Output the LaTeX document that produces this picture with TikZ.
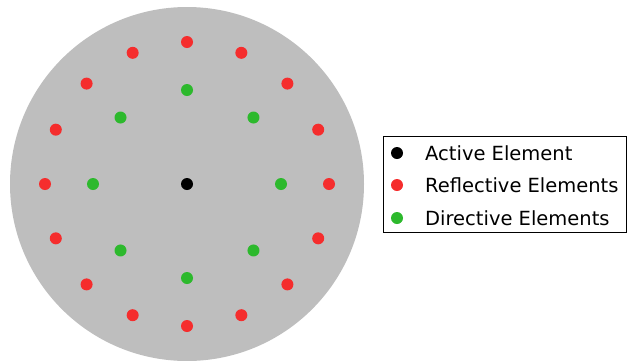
\documentclass[tikz,border=0pt]{standalone}
\usepackage{fontspec}
\setmainfont{DejaVu Sans}
\definecolor{disc}{RGB}{190,190,190}
\definecolor{redel}{RGB}{245,45,45}
\definecolor{greenel}{RGB}{45,185,45}
\begin{document}
\begin{tikzpicture}[x=1pt,y=-1pt,
  elem/.style={circle,inner sep=0pt,minimum size=12pt},
  legtext/.style={anchor=west,inner sep=0pt,font=\fontsize{19.5}{22}\selectfont}]
\useasboundingbox (0,0) rectangle (627,360);
\fill[disc] (187,184) circle (177);
\node[elem,fill=black] (active) at (187,184) {};
\foreach \i in {0,...,15}{
  \node[elem,fill=redel] (r\i) at ({187+142*cos(22.5*\i)},{184-142*sin(22.5*\i)}) {};
}
\foreach \i in {0,...,7}{
  \node[elem,fill=greenel] (g\i) at ({187+94*cos(45*\i)},{184-94*sin(45*\i)}) {};
}
\draw[line width=1pt] (383,136) rectangle (626,232);
\node[elem,fill=black] (la) at (397,153) {};
\node[elem,fill=redel] (lr) at (397,185) {};
\node[elem,fill=greenel] (lg) at (397,218) {};
\node[legtext] (ta) at (425,153) {Active Element};
\node[legtext] (tr) at (425,185) {Reflective Elements};
\node[legtext] (tg) at (425,218) {Directive Elements};
\end{tikzpicture}
\end{document}
